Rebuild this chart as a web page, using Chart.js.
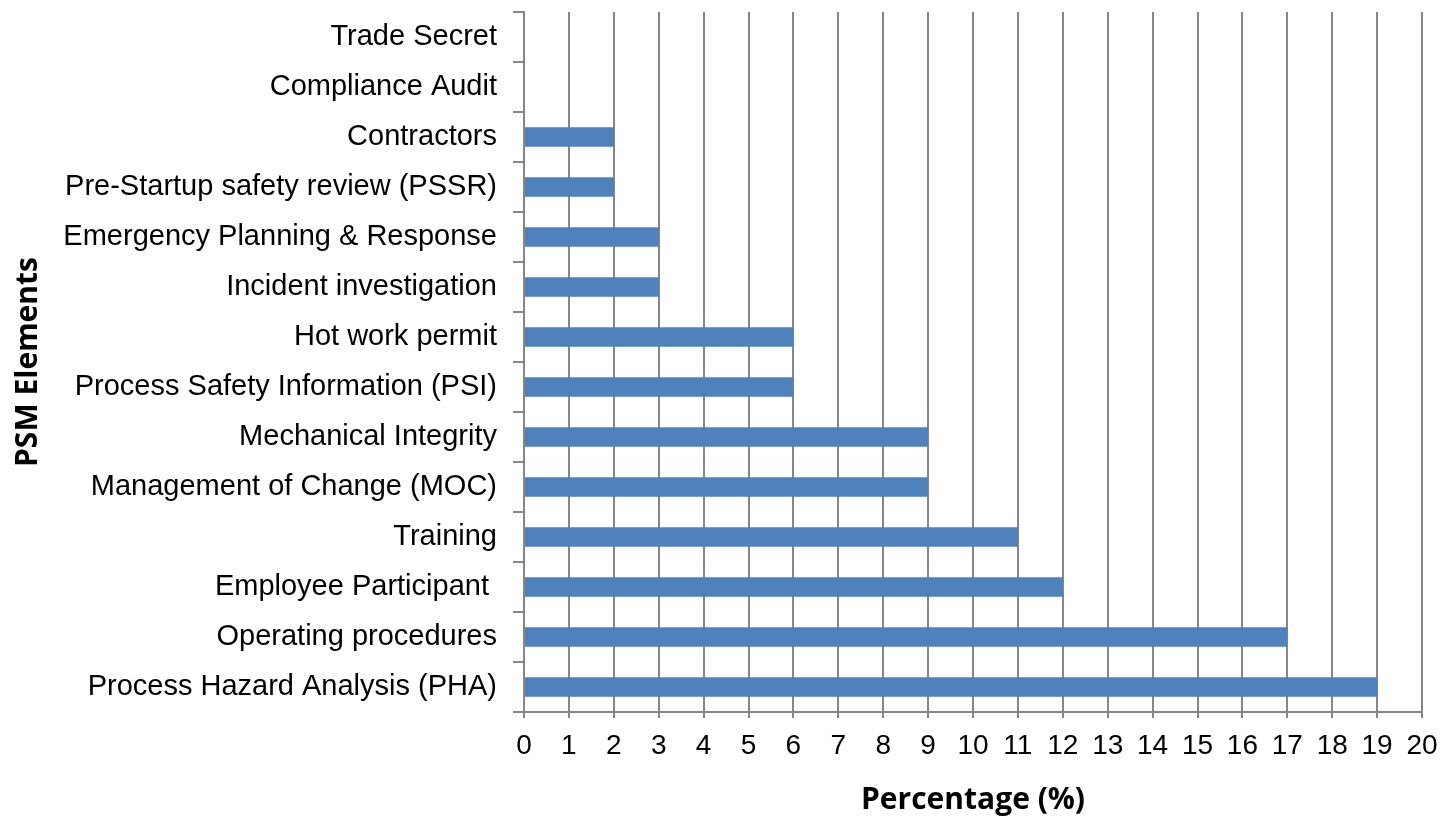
<!DOCTYPE html>
<html>
<head>
<meta charset="utf-8">
<script src="https://cdn.jsdelivr.net/npm/chart.js@4.4.1/dist/chart.umd.min.js"></script>
<style>
  html, body { margin: 0; padding: 0; background: #ffffff; }
  #wrap { width: 1442px; height: 818px; position: relative; }
</style>
</head>
<body>
<div id="wrap"><canvas id="c" width="1442" height="818"></canvas></div>
<script>
const categories = [
  "Trade Secret",
  "Compliance Audit",
  "Contractors",
  "Pre-Startup safety review (PSSR)",
  "Emergency Planning & Response",
  "Incident investigation",
  "Hot work permit",
  "Process Safety Information (PSI)",
  "Mechanical Integrity",
  "Management of Change (MOC)",
  "Training",
  "Employee Participant ",
  "Operating procedures",
  "Process Hazard Analysis (PHA)"
];
const percentages = [0, 0, 2, 2, 3, 3, 6, 6, 9, 9, 11, 12, 17, 19];
const xTicks = [0,1,2,3,4,5,6,7,8,9,10,11,12,13,14,15,16,17,18,19,20];

const GRID = '#868686';
const BAR = '#4F81BD';

new Chart(document.getElementById('c'), {
  type: 'bar',
  data: {
    labels: categories,
    datasets: [{
      data: percentages,
      backgroundColor: BAR,
      borderWidth: 0,
      barPercentage: 0.39,
      categoryPercentage: 1.0
    }]
  },
  options: {
    indexAxis: 'y',
    responsive: false,
    animation: false,
    devicePixelRatio: 1,
    layout: { padding: { top: 12, right: 20, left: 0, bottom: 0 } },
    plugins: { legend: { display: false }, tooltip: { enabled: false } },
    scales: {
      x: {
        min: 0, max: 20,
        afterBuildTicks: (s) => { s.ticks = xTicks.map(v => ({ value: v })); },
        afterFit: (s) => { s.height = 106; s.paddingLeft = 0; s.paddingRight = 0; },
        grid: { color: GRID, lineWidth: 2, drawOnChartArea: true, drawTicks: true, tickLength: 6 },
        border: { color: GRID, width: 2 },
        ticks: { color: '#000', font: { family: 'Liberation Sans, Arial, sans-serif', size: 28 }, padding: 11, maxRotation: 0, autoSkip: false },
        title: { display: true, text: 'Percentage (%)', color: '#000',
                 font: { family: 'Open Sans, sans-serif', size: 30, weight: 'bold' }, padding: { top: 0, bottom: 0 } }
      },
      y: {
        afterFit: (s) => { s.width = 524; s.paddingTop = 0; s.paddingBottom = 0; },
        grid: { color: GRID, lineWidth: 2, drawOnChartArea: false, drawTicks: true, tickLength: 11, offset: true },
        border: { color: GRID, width: 2 },
        ticks: { color: '#000', font: { family: 'Liberation Sans, Arial, sans-serif', size: 29 }, padding: 16, autoSkip: false },
        title: { display: true, text: 'PSM Elements', color: '#000',
                 font: { family: 'Open Sans, sans-serif', size: 30, weight: 'bold' }, padding: { top: 10, bottom: 0 } }
      }
    }
  }
});
</script>
</body>
</html>
